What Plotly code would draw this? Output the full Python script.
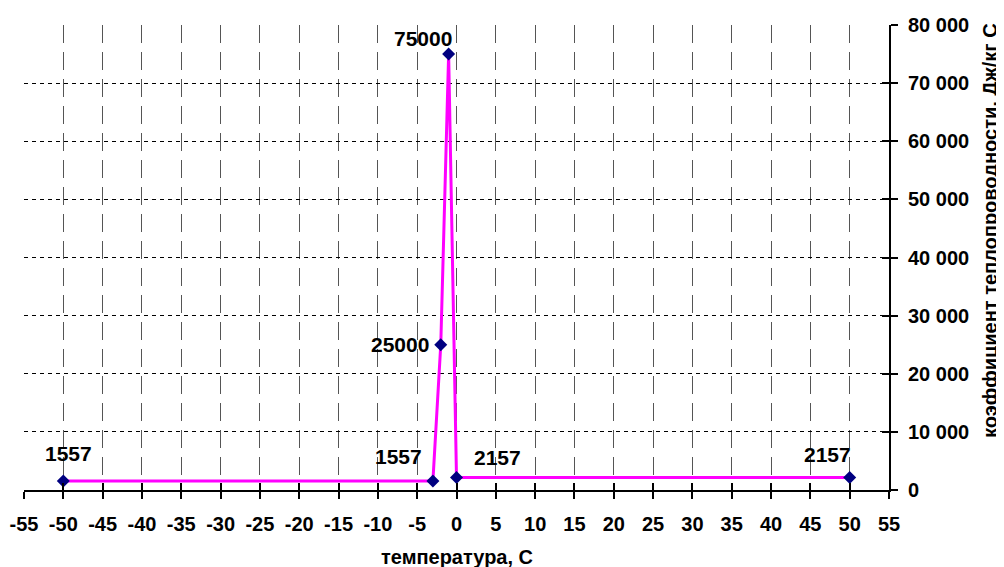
import plotly.graph_objects as go

temps = [-50, -3, -2, -1, 0, 50]
values = [1557, 1557, 25000, 75000, 2157, 2157]
labels = ["1557", "1557", "25000", "75000", "2157", "2157"]
# pixel offsets of each value label from its point (styling only)
label_dx = [5, -34, -41, -26, 41, -22]
label_dy = [27, 24, 0, 16, 20, 23]

x_ticks = list(range(-55, 56, 5))
x_ticktext = [str(v) for v in x_ticks]  # plain hyphen minus as in the reference
y_ticks = list(range(0, 80001, 10000))
y_ticktext = ["{:,}".format(v).replace(",", " ") for v in y_ticks]

x_title = "температура, С"
y_title = "коэффициент теплопроводности, Дж/кг С"

FONT = "Liberation Sans"

fig = go.Figure()
fig.add_trace(go.Scatter(
    x=temps, y=values, mode="lines+markers",
    line=dict(color="#FF00FF", width=3),
    marker=dict(symbol="diamond", size=10, color="#000080"),
    showlegend=False, cliponaxis=False,
))

# invisible trace on overlay axes for crossing ticks
fig.add_trace(go.Scatter(x=[temps[0]], y=[values[0]], xaxis="x2", yaxis="y2",
                         mode="markers", marker=dict(opacity=0), showlegend=False,
                         hoverinfo="skip"))

annotations = [
    dict(text="<b>%s</b>" % t, x=xv, y=yv, xref="x", yref="y",
         xshift=dx, yshift=dy, xanchor="center", yanchor="middle", showarrow=False,
         font=dict(family=FONT, size=21, color="black"))
    for t, xv, yv, dx, dy in zip(labels, temps, values, label_dx, label_dy)
]
annotations += [
    dict(text="<b>" + x_title + "</b>", xref="paper", yref="paper",
         x=0.5, y=-0.144, xanchor="center", yanchor="middle", showarrow=False,
         font=dict(family=FONT, size=20, color="black")),
    dict(text="<b>" + y_title + "</b>", xref="paper", yref="paper",
         x=1.1168, y=0.557, xanchor="center", yanchor="middle", showarrow=False,
         textangle=-90, font=dict(family=FONT, size=20, color="black")),
]

fig.update_layout(
    width=996, height=559,
    margin=dict(l=16, r=115, t=17, b=77),
    paper_bgcolor="white", plot_bgcolor="white",
    font=dict(family=FONT, size=20, color="black"),
    xaxis=dict(
        range=[-55, 55], tickvals=x_ticks, ticktext=x_ticktext, automargin=False,
        showline=True, linecolor="black", linewidth=2,
        ticks="outside", ticklen=7, tickwidth=2, tickcolor="black",
        ticklabelstandoff=8,
        showgrid=True, gridcolor="#555555", gridwidth=1, griddash="18px,9px",
        zeroline=False,
        tickfont=dict(family=FONT, size=20, color="black", weight="bold"),
    ),
    yaxis=dict(
        range=[0, 80000], tickvals=y_ticks, ticktext=y_ticktext, side="right", automargin=False,
        showline=True, linecolor="black", linewidth=2,
        ticks="outside", ticklen=7, tickwidth=2, tickcolor="black",
        ticklabelstandoff=6,
        showgrid=True, gridcolor="black", gridwidth=1, griddash="4px,4px",
        zeroline=False,
        tickfont=dict(family=FONT, size=20, color="black", weight="bold"),
    ),
    xaxis2=dict(range=[-55, 55], tickvals=x_ticks, overlaying="x", side="bottom",
                ticks="inside", ticklen=7, tickwidth=2, tickcolor="black",
                showticklabels=False, showgrid=False, zeroline=False, showline=False),
    yaxis2=dict(range=[0, 80000], tickvals=y_ticks, overlaying="y", side="right",
                ticks="inside", ticklen=7, tickwidth=2, tickcolor="black",
                showticklabels=False, showgrid=False, zeroline=False, showline=False),
    annotations=annotations,
)

fig.write_html("out.html")
